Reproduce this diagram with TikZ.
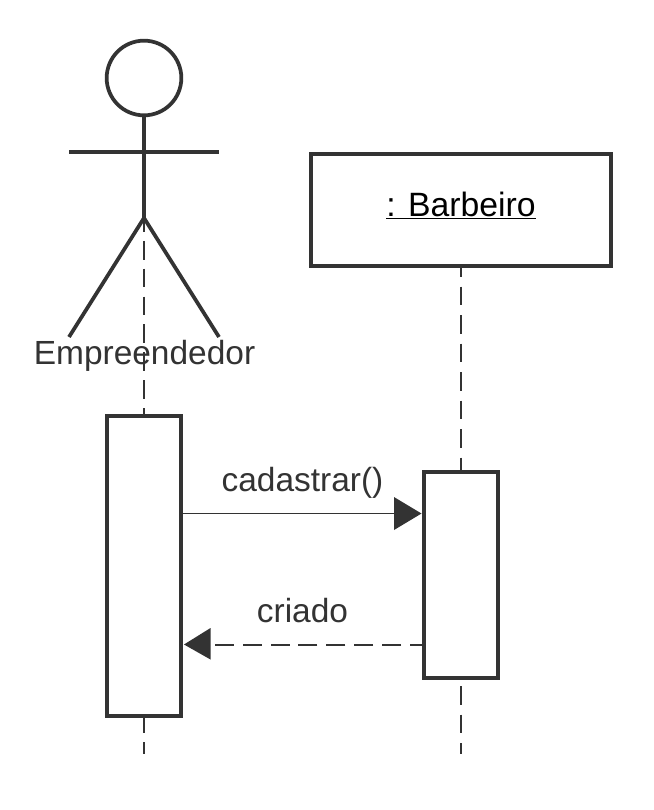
\documentclass[tikz,border=0pt]{standalone}
\usepackage{fontspec}
\setmainfont{Liberation Sans}
\definecolor{ink}{HTML}{333333}
\tikzset{
  x=0.75pt,y=-0.75pt,
  shapeline/.style={draw=ink,line width=2.8pt,fill=white},
  figure/.style={draw=ink,line width=2.8pt,line join=round},
  lifelineA/.style={draw=ink,line width=1.45pt,dash pattern=on 14pt off 6.9pt},
  lifelineB/.style={draw=ink,line width=1.45pt,dash pattern=on 14pt off 7.4pt},
  msg/.style={draw=ink,line width=0.75pt},
  reply/.style={draw=ink,line width=1.45pt,dash pattern=on 14.25pt off 6.67pt,dash phase=5.25pt},
  head/.style={fill=ink,draw=none},
  lbl/.style={text=ink,font=\fontsize{25.1pt}{28pt}\selectfont,inner sep=0pt,anchor=base}
}
\begin{document}
\begin{tikzpicture}
\useasboundingbox (0,0) rectangle (653,810);
\fill[white] (0,0) rectangle (653,810);
% coordinates
\coordinate (aTop) at (144,213);
\coordinate (aBot) at (144,754);
\coordinate (bTop) at (461,258);
\coordinate (bBot) at (461,754);
\draw[lifelineA] (aTop) -- (aBot);
\draw[lifelineB] (bTop) -- (bBot);
% actor
\node[circle,shapeline,minimum size=56pt,inner sep=0pt] (head) at (144,78) {};
\coordinate (hip) at (144,218);
\coordinate (armL) at (69,152);
\coordinate (armR) at (219,152);
\coordinate (footL) at (69,337);
\coordinate (footR) at (219,337);
\draw[figure] (head.south) -- (hip);
\draw[figure] (armL) -- (armR);
\draw[figure] (footL) -- (hip) -- (footR);
\node[lbl] (actor) at (144.5,364.7) {Empreendedor};
% object
\node[shapeline,minimum width=225pt,minimum height=84pt,inner sep=0pt] (obj) at (461,210) {};
\node[lbl,text=black,font=\fontsize{25.3pt}{28pt}\selectfont] (objl) at (461,216) {\underline{: Barbeiro}};
% activations
\node[shapeline,minimum width=56pt,minimum height=225pt,inner sep=0pt] (actA) at (144,566) {};
\node[shapeline,minimum width=55.5pt,minimum height=154.5pt,inner sep=0pt] (actB) at (461,575) {};
% messages
\coordinate (m1s) at (183,513.5);
\coordinate (m1e) at (394,513.5);
\coordinate (m1t) at (421.5,513.5);
\draw[msg] (m1s) -- (m1e);
\fill[head] (394,497) -- (m1t) -- (394,530) -- cycle;
\node[lbl] (m1l) at (302.5,491.7) {cadastrar()};
\coordinate (m2s) at (422,645);
\coordinate (m2e) at (211,645);
\coordinate (m2t) at (184,644.5);
\draw[reply] (m2s) -- (m2e);
\fill[head] (210.5,628) -- (m2t) -- (210.5,659.5) -- cycle;
\node[lbl] (m2l) at (302.5,622.7) {criado};
\end{tikzpicture}
\end{document}
